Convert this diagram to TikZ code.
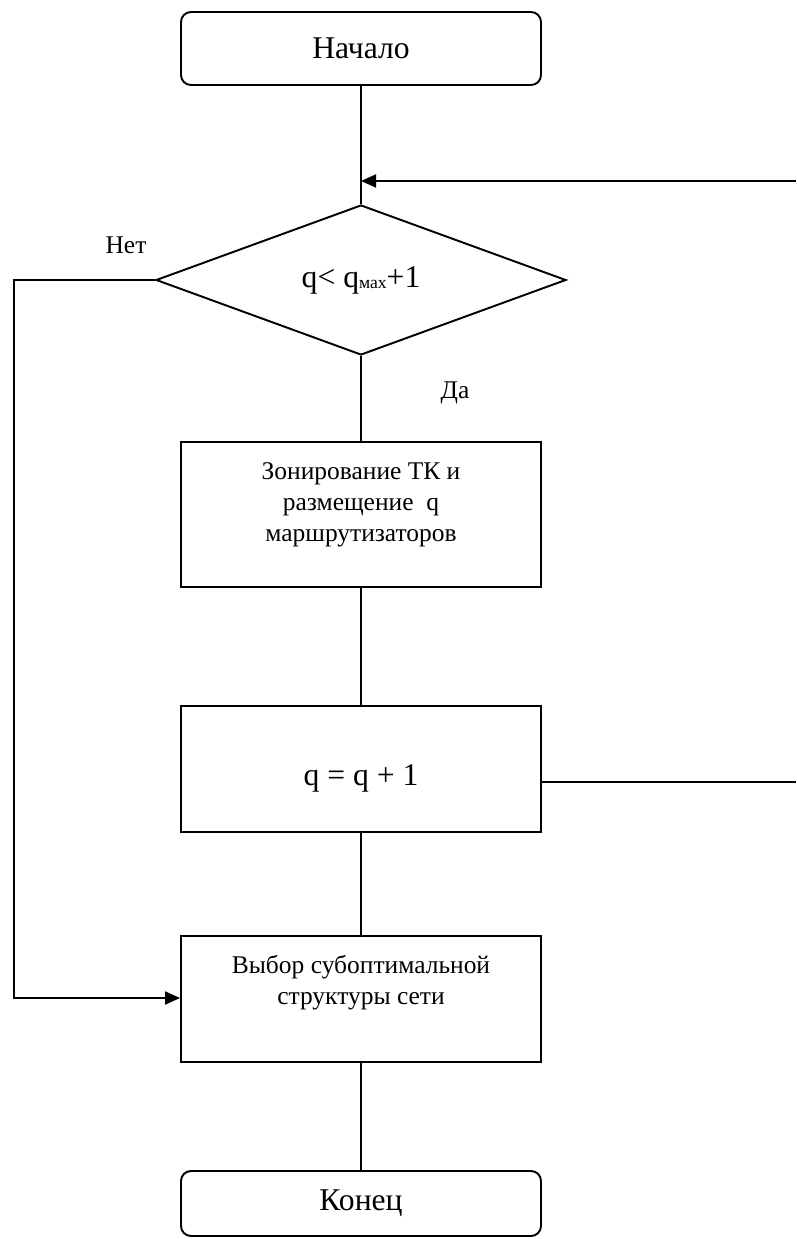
\documentclass[tikz,border=0pt]{standalone}
\usepackage{fontspec}
\setmainfont{Liberation Serif}
\usetikzlibrary{arrows.meta, positioning, calc, shapes.geometric}
\newcommand{\fbig}{\fontsize{18}{21}\selectfont}
\newcommand{\fsmall}{\fontsize{14.5}{17.6}\selectfont}
\newcommand{\fsub}{\fontsize{10}{10}\selectfont}

\begin{document}
\begin{tikzpicture}[x=0.2mm, y=-0.2mm, line width=1.1pt,
  >={Triangle[length=3mm, width=2.6mm]},
  term/.style={draw, rounded corners=2mm, minimum width=7.2cm,
    minimum height=1.46cm, font=\fbig},
  blk/.style={draw, minimum width=7.2cm, minimum height=2.52cm},
  cond/.style={draw, diamond, minimum width=8.2cm, minimum height=3cm,
    inner sep=0pt, font=\fbig},
  txt/.style={align=center, font=\fsmall},
  lbl/.style={font=\fsmall}]
  \useasboundingbox (0,0) rectangle (796,1239);
  \node[term] (start) at (361,48.5) {Начало};
  \node[cond] (dec) at (361,280) {q< q\raisebox{-1pt}{\fsub мах}+1};
  \node[blk, minimum height=2.9cm] (zone) at (361,514.5) {};
  \node[txt] (zonet) at (361,505)
    {Зонирование ТК и\\размещение~ q\\маршрутизаторов};
  \node[blk] (inc) at (361,769) {};
  \node[font=\fbig] (inct) at (361,778) {q = q + 1};
  \node[blk] (sel) at (361,999) {};
  \node[txt] (selt) at (361,983) {Выбор субоптимальной\\структуры сети};
  \node[term, minimum height=1.3cm] (stop) at (361,1203.5) {Конец};
  \node[lbl] (no) at (126,245) {Нет};
  \node[lbl] (yes) at (455,393) {Да};
  \coordinate (join) at (361,181);
  \coordinate (loopT) at (796,181);
  \coordinate (loopB) at (796,782);
  \coordinate (leftB) at (14,998);
  \draw (start) -- (dec);
  \draw[->] (loopT) -- (join);
  \draw (dec) -- (zone);
  \draw (zone) -- (inc);
  \draw (inc) -- (sel);
  \draw (sel) -- (stop);
  \draw[->] (dec.west) -| (leftB) -- (leftB -| sel.west);
  \draw (inc.east |- loopB) -- (loopB);
\end{tikzpicture}
\end{document}
